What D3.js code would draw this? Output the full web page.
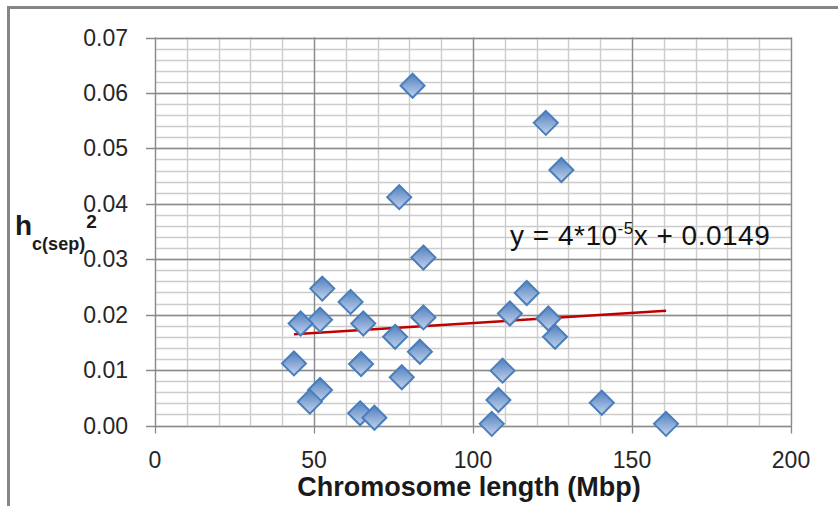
<html>
<head>
  <meta charset="utf-8">
  <title>h2 vs chromosome length</title>
  <script src="https://d3js.org/d3.v7.min.js"></script>
  <style>
    body { margin: 0; background: #fff; }
  </style>
</head>
<body>
<div id="my_dataviz"></div>
<script>
// data
var chromLength = [81.0, 122.9, 127.8, 76.8, 84.4, 52.6, 116.9, 61.5, 111.6, 51.9,
                   84.4, 123.7, 45.8, 65.5, 75.5, 125.8, 83.3, 43.7, 64.8, 109.3,
                   77.6, 51.9, 108.0, 48.7, 140.5, 64.5, 69.0, 105.9, 160.7];
var hValue = [0.0613, 0.0546, 0.0461, 0.0412, 0.0303, 0.0247, 0.0239, 0.0223, 0.0202, 0.0191,
              0.0195, 0.0193, 0.0184, 0.0184, 0.0160, 0.0160, 0.0133, 0.0112, 0.0111, 0.0099,
              0.0087, 0.0064, 0.0046, 0.0043, 0.0041, 0.0022, 0.0014, 0.0003, 0.0003];
var xTicks = [0, 50, 100, 150, 200];
var yTicks = [0, 0.01, 0.02, 0.03, 0.04, 0.05, 0.06, 0.07];
var trendSlope = 0.000036, trendIntercept = 0.0149;

var data = chromLength.map(function(v, i) { return {x: v, y: hValue[i]}; });

var W = 838, H = 506;
var pLeft = 155, pRight = 791, pTop = 37.5, pBottom = 425.5;

var svg = d3.select("#my_dataviz").append("svg")
    .attr("width", W).attr("height", H);

svg.append("rect").attr("width", W).attr("height", H).attr("fill", "#fff");
// outer frame
svg.append("rect")
    .attr("x", 8.5).attr("y", 7.5).attr("width", W + 20).attr("height", H + 20)
    .attr("fill", "none").attr("stroke", "#868686").attr("stroke-width", 3);

var x = d3.scaleLinear().domain([0, 200]).range([pLeft, pRight]);
var y = d3.scaleLinear().domain([0, 0.07]).range([pBottom, pTop]);

// grid
var g = svg.append("g");
g.selectAll(".vminor").data(d3.range(0, 201, 10)).enter().append("line")
    .attr("x1", function(d) { return Math.round(x(d)) + 0.5; })
    .attr("x2", function(d) { return Math.round(x(d)) + 0.5; })
    .attr("y1", pTop).attr("y2", pBottom)
    .attr("stroke", "#cccccc").attr("stroke-width", 1.4);
g.selectAll(".hminor").data(d3.range(0, 36).map(function(i) { return i * 0.002; })).enter().append("line")
    .attr("y1", function(d) { return Math.round(y(d)) + 0.5; })
    .attr("y2", function(d) { return Math.round(y(d)) + 0.5; })
    .attr("x1", pLeft).attr("x2", pRight)
    .attr("stroke", "#cccccc").attr("stroke-width", 1.4);
g.selectAll(".vmajor").data(xTicks).enter().append("line")
    .attr("x1", function(d) { return Math.round(x(d)) + 0.5; })
    .attr("x2", function(d) { return Math.round(x(d)) + 0.5; })
    .attr("y1", pTop).attr("y2", pBottom + 8)
    .attr("stroke", "#8a8a8a").attr("stroke-width", 1.3);
g.selectAll(".hmajor").data(yTicks).enter().append("line")
    .attr("y1", function(d) { return Math.round(y(d)) + 0.5; })
    .attr("y2", function(d) { return Math.round(y(d)) + 0.5; })
    .attr("x1", pLeft - 9).attr("x2", pRight)
    .attr("stroke", "#8a8a8a").attr("stroke-width", 1.3);

// tick labels
svg.selectAll(".ylab").data(yTicks).enter().append("text")
    .attr("x", 128).attr("y", function(d) { return y(d) + 8; })
    .attr("text-anchor", "end")
    .attr("font-family", "Liberation Sans, Arial, sans-serif")
    .attr("font-size", "23px").attr("fill", "#262626")
    .text(function(d) { return d3.format(".2f")(d); });
svg.selectAll(".xlab").data(xTicks).enter().append("text")
    .attr("x", function(d) { return x(d); }).attr("y", 468)
    .attr("text-anchor", "middle")
    .attr("font-family", "Liberation Sans, Arial, sans-serif")
    .attr("font-size", "23px").attr("fill", "#262626")
    .text(function(d) { return d; });

// axis titles
svg.append("text")
    .attr("x", 469).attr("y", 496)
    .attr("text-anchor", "middle")
    .attr("font-family", "Liberation Sans, Arial, sans-serif")
    .attr("font-size", "27px").attr("font-weight", "bold").attr("fill", "#1a1a1a")
    .text("Chromosome length (Mbp)");

var yt = svg.append("text")
    .attr("x", 15).attr("y", 235)
    .attr("font-family", "Liberation Sans, Arial, sans-serif")
    .attr("font-weight", "bold").attr("fill", "#1a1a1a");
yt.append("tspan").attr("font-size", "28px").text("h");
yt.append("tspan").attr("font-size", "18px").attr("dy", 15).text("c(sep)");
yt.append("tspan").attr("font-size", "19px").attr("dy", -22).attr("dx", 1).text("2");

// gradient for markers
var grad = svg.append("defs").append("linearGradient")
    .attr("id", "mk").attr("x1", 0).attr("y1", 0).attr("x2", 0).attr("y2", 1);
grad.append("stop").attr("offset", "0%").attr("stop-color", "#4f7fbf");
grad.append("stop").attr("offset", "100%").attr("stop-color", "#c3d3ec");

// trend line
var xMin = d3.min(chromLength), xMax = d3.max(chromLength);
svg.append("line")
    .attr("x1", x(xMin)).attr("y1", y(trendIntercept + trendSlope * xMin))
    .attr("x2", x(xMax)).attr("y2", y(trendIntercept + trendSlope * xMax))
    .attr("stroke", "#c00000").attr("stroke-width", 2.5);

// points
var s = 12;
svg.selectAll(".pt").data(data).enter().append("path")
    .attr("transform", function(d) { return "translate(" + x(d.x) + "," + y(d.y) + ")"; })
    .attr("d", "M0," + (-s) + "L" + s + ",0L0," + s + "L" + (-s) + ",0Z")
    .attr("fill", "url(#mk)")
    .attr("stroke", "#4a7ebb").attr("stroke-width", 2);

// equation label
var eq = svg.append("text")
    .attr("x", 510).attr("y", 245)
    .attr("font-family", "Liberation Sans, Arial, sans-serif")
    .attr("font-size", "28px").attr("letter-spacing", "0.5px").attr("fill", "#111");
eq.append("tspan").text("y = 4*10");
eq.append("tspan").attr("font-size", "17px").attr("dy", -11).text("-5");
eq.append("tspan").attr("dy", 11).text("x + 0.0149");
</script>
</body>
</html>
